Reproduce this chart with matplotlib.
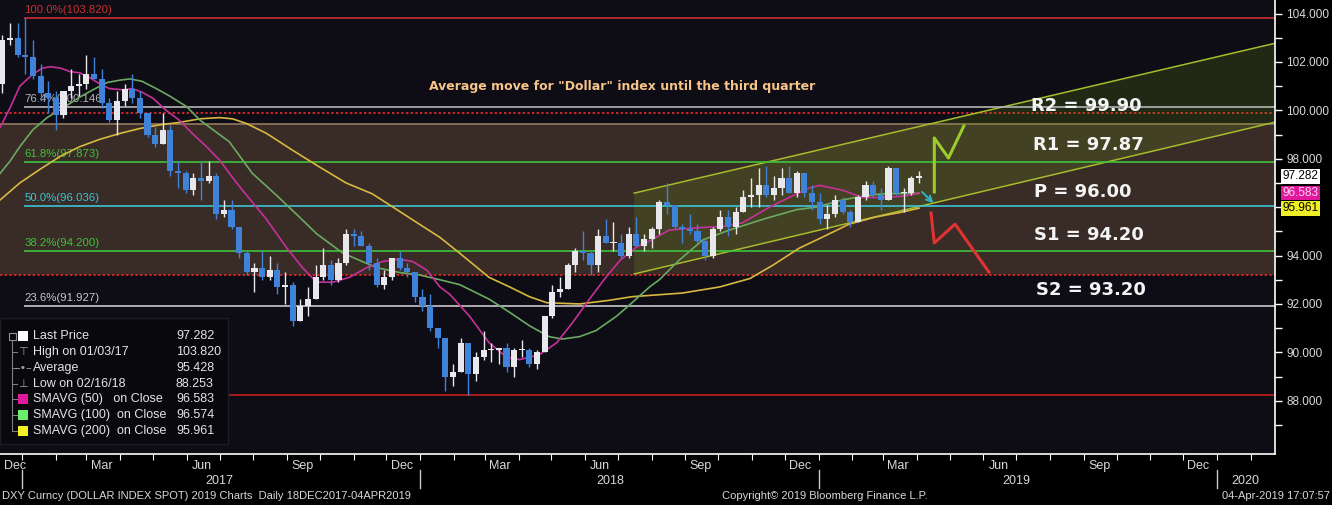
import matplotlib
matplotlib.use("Agg")
import matplotlib.pyplot as plt
import matplotlib.dates as mdates
import matplotlib.transforms as mtransforms
from matplotlib.patches import Rectangle, Polygon
from matplotlib.lines import Line2D
import pandas as pd

#### data
# weekly bars (week starting monday)
week_start = pd.date_range('2016-12-12', '2019-04-01', freq='W-MON')
first_open = 101.1
highs = [103.1, 103.6, 103.6,
         103.82, 102.9, 101.9, 101.2, 100.8, 100.8, 101.7, 101.5, 102.3, 102.2, 101.7, 100.5, 100.8,
         101.1, 101.5, 100.8, 99.9, 99.3, 99.9, 99.4, 97.9, 97.5, 97.4, 97.9, 97.9, 97.4,
         96.3, 96.3, 95.2, 94.2, 93.7, 94.2, 94.0, 93.7, 93.3, 92.9, 92.2, 92.7, 93.6,
         94.3, 93.8, 93.9, 95.1, 95.1, 95.0, 94.5, 93.9, 93.4, 93.9, 94.2, 93.7, 93.3,
         92.6, 92.4, 91.0, 90.6, 89.5, 90.6, 90.4, 90.0, 90.9, 90.4, 90.2, 90.4, 90.2,
         90.5, 90.2, 90.1, 91.5, 92.8, 93.1, 93.7, 94.3, 95.0, 94.2, 95.1, 95.5, 95.4,
         94.9, 95.2, 95.6, 94.9, 95.2, 96.3, 96.98, 96.1, 95.3, 95.7, 95.3, 94.7, 95.2,
         95.9, 95.9, 96.0, 96.7, 97.2, 97.6, 97.7, 97.3, 97.6, 97.7, 97.5, 97.4, 96.9, 96.6,
         96.1, 96.5, 96.4, 95.9, 96.5, 97.1, 97.1, 96.8, 97.7, 97.6, 96.8, 97.3, 97.5]
lows = [100.7, 102.7, 102.2,
        101.5, 101.3, 100.4, 99.9, 99.2, 99.7, 100.5, 100.6, 100.9, 101.3, 100.1, 99.5, 99.0,
        100.2, 100.3, 99.7, 98.9, 98.5, 98.6, 97.3, 96.8, 96.6, 96.5, 96.3, 97.0, 95.5,
        95.6, 95.1, 93.9, 93.2, 92.5, 93.0, 93.0, 92.4, 92.0, 91.1, 91.3, 91.5, 92.2,
        93.0, 92.8, 92.9, 93.6, 94.4, 94.4, 93.4, 92.7, 92.6, 93.0, 93.4, 93.1, 92.1,
        91.7, 90.9, 90.2, 88.4, 88.6, 89.2, 88.25, 88.8, 89.7, 89.6, 89.5, 89.2, 89.0,
        89.8, 89.4, 89.3, 90.0, 91.4, 92.3, 92.6, 93.3, 93.8, 93.2, 93.3, 94.5, 94.2,
        93.9, 93.9, 94.4, 94.2, 94.3, 94.9, 95.7, 95.1, 94.5, 94.9, 94.5, 93.8, 93.9,
        95.0, 94.8, 94.9, 95.8, 96.0, 96.0, 96.4, 96.3, 96.5, 96.6, 96.4, 96.4, 95.9, 95.3,
        95.1, 95.6, 95.7, 95.2, 95.4, 96.3, 96.4, 95.9, 96.3, 96.5, 95.8, 96.5, 97.0]
closes = [102.9, 103.0, 102.3,
          102.2, 101.4, 100.7, 100.5, 99.8, 100.8, 101.0, 101.1, 101.5, 101.3, 100.3, 99.6, 100.4,
          100.9, 100.5, 99.9, 99.0, 98.6, 99.2, 97.5, 97.4, 96.7, 97.2, 97.1, 97.3, 95.7,
          95.9, 95.2, 94.1, 93.3, 93.5, 93.1, 93.4, 92.7, 92.8, 91.3, 91.9, 92.2, 93.1,
          93.6, 93.0, 93.7, 94.9, 94.8, 94.4, 93.7, 92.8, 93.1, 93.9, 93.5, 93.3, 92.3,
          91.9, 91.0, 90.6, 89.0, 89.2, 90.4, 89.1, 89.8, 90.1, 90.1, 90.2, 89.4, 90.1,
          90.1, 89.5, 90.0, 91.5, 92.5, 92.6, 93.6, 94.2, 94.1, 93.6, 94.8, 94.5, 94.5,
          94.0, 94.9, 94.4, 94.7, 95.1, 96.2, 96.1, 95.2, 95.1, 95.0, 94.6, 94.0, 95.1,
          95.6, 95.2, 95.8, 96.4, 96.5, 96.9, 96.5, 96.8, 97.2, 96.6, 97.4, 96.6, 96.2, 95.5,
          95.7, 96.3, 95.8, 95.4, 96.4, 96.9, 96.5, 96.3, 97.6, 96.6, 96.6, 97.2, 97.282]
opens = [first_open] + closes[:-1]

# moving averages
sma50_dates = ['2016-12-12', '2016-12-21', '2016-12-30', '2017-01-11', '2017-01-20', '2017-01-27',
               '2017-02-05', '2017-02-14', '2017-02-23', '2017-03-04', '2017-03-13', '2017-03-22',
               '2017-04-03', '2017-04-12', '2017-04-21', '2017-05-01', '2017-05-13', '2017-05-25',
               '2017-06-06', '2017-06-19', '2017-07-01', '2017-07-10', '2017-07-22', '2017-08-13',
               '2017-08-31', '2017-09-15', '2017-09-28', '2017-10-13', '2017-10-28', '2017-11-13',
               '2017-11-27', '2017-12-13', '2017-12-25', '2018-01-07', '2018-01-19', '2018-01-28',
               '2018-02-06', '2018-02-15', '2018-03-05', '2018-03-21', '2018-04-02', '2018-04-20',
               '2018-05-06', '2018-05-20', '2018-06-05', '2018-06-20', '2018-07-03', '2018-07-18',
               '2018-07-30', '2018-08-17', '2018-09-11', '2018-10-05', '2018-10-23', '2018-11-17',
               '2018-12-05', '2018-12-24', '2019-01-02', '2019-01-23', '2019-02-10', '2019-02-28',
               '2019-03-19', '2019-04-03']
sma50_vals = [99.3, 100.1, 101.0, 101.5, 101.75, 101.8, 101.75, 101.6, 101.55, 101.35, 101.1, 100.9,
              100.85, 100.9, 100.75, 100.5, 100.0, 99.6, 99.05, 98.5, 97.95, 97.4, 96.7, 95.5,
              94.35, 93.5, 92.9, 92.9, 93.1, 93.5, 93.75, 93.85, 93.75, 93.4, 92.7, 92.4,
              91.95, 91.5, 90.4, 89.8, 89.7, 89.9, 90.4, 91.2, 92.2, 93.1, 93.8, 94.35,
              94.6, 95.05, 95.15, 95.2, 95.35, 96.0, 96.4, 96.8, 96.9, 96.7, 96.4, 96.4,
              96.45, 96.58]

sma100_dates = ['2016-12-12', '2016-12-21', '2016-12-30', '2017-01-11', '2017-01-24', '2017-02-02',
                '2017-02-11', '2017-02-23', '2017-03-07', '2017-03-20', '2017-04-01', '2017-04-10',
                '2017-04-21', '2017-05-04', '2017-05-16', '2017-06-01', '2017-06-13', '2017-06-25',
                '2017-07-10', '2017-07-31', '2017-08-22', '2017-09-12', '2017-09-28', '2017-10-22',
                '2017-11-22', '2017-12-13', '2017-12-31', '2018-01-19', '2018-02-06', '2018-02-15',
                '2018-03-05', '2018-03-24', '2018-04-11', '2018-04-29', '2018-05-11', '2018-05-27',
                '2018-06-11', '2018-06-30', '2018-07-14', '2018-07-30', '2018-08-08', '2018-08-26',
                '2018-09-17', '2018-10-11', '2018-11-11', '2018-12-12', '2018-12-30', '2019-01-23',
                '2019-02-10', '2019-02-28', '2019-04-03']
sma100_vals = [97.4, 97.9, 98.5, 99.2, 99.7, 99.95, 100.2, 100.55, 100.85, 101.15,
               101.25, 101.3, 101.2, 100.9, 100.6, 100.15, 99.6, 99.2, 98.7, 97.4,
               96.5, 95.6, 94.9, 94.1, 93.5, 93.3, 93.2, 93.0, 92.8, 92.6,
               92.2, 91.65, 91.1, 90.65, 90.55, 90.65, 90.9, 91.5, 92.05, 92.7,
               93.0, 93.8, 94.65, 95.05, 95.5, 95.9, 96.0, 96.3, 96.45, 96.55, 96.57]

sma200_dates = ['2016-12-12', '2016-12-30', '2017-01-17', '2017-02-05', '2017-02-23', '2017-03-13',
                '2017-04-01', '2017-04-19', '2017-05-07', '2017-05-25', '2017-06-13', '2017-07-01',
                '2017-07-13', '2017-07-26', '2017-08-13', '2017-09-06', '2017-10-01', '2017-10-25',
                '2017-11-18', '2017-12-07', '2017-12-31', '2018-01-19', '2018-02-06', '2018-03-05',
                '2018-03-24', '2018-04-11', '2018-04-27', '2018-05-27', '2018-06-23', '2018-07-14',
                '2018-08-29', '2018-10-02', '2018-10-30', '2018-11-20', '2018-12-14', '2019-01-04',
                '2019-01-29', '2019-02-23', '2019-03-19', '2019-04-03']
sma200_vals = [96.3, 97.0, 97.55, 98.1, 98.5, 98.8, 99.05, 99.25, 99.4, 99.5,
               99.65, 99.7, 99.65, 99.45, 99.05, 98.35, 97.65, 97.0, 96.55, 96.0,
               95.3, 94.75, 94.1, 93.1, 92.7, 92.3, 92.05, 92.0, 92.15, 92.3,
               92.45, 92.7, 93.05, 93.6, 94.3, 94.75, 95.3, 95.6, 95.8, 95.96]

# fibonacci retracement levels
fib_names = ['100.0%', '76.4%', '61.8%', '50.0%', '38.2%', '23.6%']
fib_levels = [103.820, 100.146, 97.873, 96.036, 94.200, 91.927]
fib_colors = ['#c83030', '#b4b4b4', '#3cc43c', '#3cc4d4', '#3cc43c', '#c8c8c8']
fib_start = '2017-01-03'
low_level = 88.253

# pivot levels
pivot_names = ['R2', 'R1', 'P', 'S1', 'S2']
pivot_levels = [99.90, 97.87, 96.00, 94.20, 93.20]
band_top = 99.45

# trend channel
chan_dates = ['2018-07-16', '2020-02-23']
chan_upper = [96.58, 102.77]
chan_lower = [93.24, 99.51]

# scenario paths
up_dates = ['2019-04-17', '2019-04-17', '2019-04-30', '2019-05-14']
up_vals = [96.63, 98.86, 98.03, 99.35]
dn_dates = ['2019-04-14', '2019-04-17', '2019-05-06', '2019-06-06']
dn_vals = [95.76, 94.52, 95.30, 93.32]
arrow_dates = ['2019-04-04', '2019-04-18']
arrow_vals = [96.71, 96.09]

# legend
leg_labels = ['Last Price', 'High on 01/03/17', 'Average', 'Low on 02/16/18',
              'SMAVG (50)   on Close', 'SMAVG (100)  on Close', 'SMAVG (200)  on Close']
leg_values = ['97.282', '103.820', '95.428', '88.253', '96.583', '96.574', '95.961']

tag_values = [97.282, 96.583, 95.961]


#### plot
W, H = 1332, 505
ff = ['Liberation Sans', 'DejaVu Sans']
fig = plt.figure(figsize=(W / 100, H / 100), dpi=100, facecolor='black')
ax = fig.add_axes([0, 1 - 454 / H, 1275 / W, 454 / H])
ax.set_facecolor('#0e0d15')

def px(x, y):
    return x / W, 1 - y / H

xmin, xmax = pd.Timestamp('2016-12-11 20:00'), pd.Timestamp('2020-02-23 05:00')
ax.set_xlim(xmin, xmax)
ax.set_ylim(85.8, 104.56)

# brown zone between pivot band
ax.axhspan(pivot_levels[4], band_top, color='#392b26', zorder=0, lw=0)
ax.axhline(band_top, color='#8c7258', lw=1.3, zorder=1)
for lvl in [pivot_levels[0], pivot_levels[4]]:
    ax.axhline(lvl, color='#c8282a', lw=1.4, ls=(0, (1.2, 1.2)), zorder=1)

# trend channel
t0, t1 = pd.to_datetime(chan_dates)
poly = Polygon([(mdates.date2num(t0), chan_upper[0]), (mdates.date2num(t1), chan_upper[1]),
                (mdates.date2num(t1), chan_lower[1]), (mdates.date2num(t0), chan_lower[0])],
               closed=True, facecolor='#6e9a18', alpha=0.2, lw=0, zorder=1)
ax.add_patch(poly)
ax.plot([t0, t1], chan_upper, color='#a6bc2c', lw=1.1, zorder=2)
ax.plot([t0, t1], chan_lower, color='#a6bc2c', lw=1.1, zorder=2)

# fibonacci lines
fs = pd.Timestamp(fib_start)
for name, lvl, c in zip(fib_names, fib_levels, fib_colors):
    ax.hlines(lvl, fs, xmax, color=c, lw=1.2, zorder=2)
    ax.text(fs, lvl + 0.12, '%s(%.3f)' % (name, lvl), color=c, fontsize=8.2,
            family=ff, va='bottom', ha='left', zorder=3)
ax.hlines(low_level, fs, xmax, color='#b81c1c', lw=1.3, zorder=2)

# candles
ws = week_start + pd.Timedelta(days=2)
for d, o, h, l, c in zip(ws, opens, highs, lows, closes):
    col = '#e8e8ec' if c >= o else '#3f82d8'
    ax.vlines(d, l, h, color=col, lw=1.0, zorder=4)
    body = c - o if abs(c - o) > 0.04 else 0.04
    ax.bar(d, body, bottom=o, width=5.6, color=col, lw=0, zorder=4)

# moving averages
ax.plot(pd.to_datetime(sma200_dates), sma200_vals, color='#d8b840', lw=1.2, zorder=3)
ax.plot(pd.to_datetime(sma100_dates), sma100_vals, color='#6aaa62', lw=1.2, zorder=3)
ax.plot(pd.to_datetime(sma50_dates), sma50_vals, color='#c8309a', lw=1.2, zorder=3)

# scenario paths
ax.plot(pd.to_datetime(up_dates), up_vals, color='#9ccc2c', lw=2.2, zorder=5)
ax.plot(pd.to_datetime(dn_dates), dn_vals, color='#e03434', lw=2.2, zorder=5)
ad = pd.to_datetime(arrow_dates)
ax.annotate('', xy=(ad[1], arrow_vals[1]), xytext=(ad[0], arrow_vals[0]),
            arrowprops=dict(arrowstyle='->', color='#30b4c8', lw=1.4), zorder=5)

# texts
fig.text(*px(622, 87), 'Average move for "Dollar" index until the third quarter',
         color='#f6c488', fontsize=9, fontweight='bold', ha='center', va='center', zorder=6)
pivot_y = [106, 145, 192, 235, 290]
pivot_x = [1031, 1033, 1034, 1034, 1036]
for name, lvl, xx, yy in zip(pivot_names, pivot_levels, pivot_x, pivot_y):
    fig.text(*px(xx, yy), '%s = %.2f' % (name, lvl), color='#f4f4f4', fontsize=13,
             fontweight='bold', ha='left', va='center')

# axes formatting
for s in ['top', 'left']:
    ax.spines[s].set_visible(False)
for s in ['bottom', 'right']:
    ax.spines[s].set_color('white')
    ax.spines[s].set_linewidth(1.2)

ax.yaxis.tick_right()
ytick_vals = list(range(88, 105, 2))
ax.set_yticks(ytick_vals)
# the 96 label sits under the price tags, as in the terminal view
ax.set_yticklabels(['' if v == 96 else '%.3f' % v for v in ytick_vals])
ax.set_yticks(range(87, 104, 2), minor=True)
ax.tick_params(axis='y', which='both', colors='white', labelcolor='#d8d8d8', direction='out',
               length=5, width=1, labelsize=8.5, pad=3)
for lab in ax.get_yticklabels():
    lab.set_family(ff)

ax.xaxis.set_major_locator(mdates.MonthLocator())
ax.tick_params(axis='x', which='both', colors='white', direction='out', length=4,
               labelbottom=False)

trans = mtransforms.blended_transform_factory(ax.transData, ax.transAxes)
month_lbl = {12: 'Dec', 3: 'Mar', 6: 'Jun', 9: 'Sep'}
for m in pd.date_range('2016-12-01', '2019-12-01', freq='MS'):
    if m.month not in month_lbl:
        continue
    if m < xmin:
        ax.text(0.003, -0.026, month_lbl[m.month], transform=ax.transAxes, color='#d8d8d8',
                fontsize=9, ha='left', va='center', family=ff)
    else:
        ax.text(m + pd.Timedelta(days=14), -0.026, month_lbl[m.month], transform=trans,
                color='#d8d8d8', fontsize=9, ha='center', va='center', family=ff)
year_lbl_dates = ['2017-07-01', '2018-06-24', '2019-07-01', '2020-01-27']
for yl, d in zip(['2017', '2018', '2019', '2020'], year_lbl_dates):
    ax.text(pd.Timestamp(d), -0.06, yl, transform=trans, color='#d8d8d8', fontsize=9,
            ha='center', va='center', family=ff)
for yr in ['2017-01-01', '2018-01-01', '2019-01-01', '2020-01-01']:
    ax.plot([pd.Timestamp(yr)] * 2, [-0.036, -0.075], transform=trans, color='#c8c8c8',
            lw=1, clip_on=False)

# right-hand price tags
tag_style = [('white', 'black'), ('#e0189c', '#ffd6f2'), ('#f0ee24', 'black')]
ytrans = mtransforms.blended_transform_factory(ax.transAxes, ax.transData)
for v, (fc, tc) in zip(tag_values, tag_style):
    ax.text(1.006, v, '%.3f' % v, transform=ytrans, color=tc, fontsize=8.5,
            family=ff, va='center', ha='left', zorder=10,
            clip_on=False, bbox=dict(boxstyle='square,pad=0.12', fc=fc, ec='none'))

# legend box
fig.patches.append(Rectangle(px(0, 444), 228 / W, 126 / H, transform=fig.transFigure,
                             facecolor='#09090d', edgecolor='#1c1c22', lw=1, zorder=5))
row_y = [336, 352, 368, 384, 399, 415, 431]
fig.add_artist(Line2D([12 / W, 12 / W], [px(0, 340)[1], px(0, 431)[1]], color='#808080',
                      lw=0.8, zorder=6))
for yy in row_y[1:]:
    fig.add_artist(Line2D([12 / W, 17 / W], [px(0, yy)[1]] * 2, color='#808080', lw=0.8, zorder=6))
fig.patches.append(Rectangle(px(9, 340), 7 / W, 7 / H, transform=fig.transFigure,
                             facecolor='#09090d', edgecolor='#909090', lw=0.8, zorder=7))
sq_colors = ['white', None, None, None, '#e0189c', '#6cf06c', '#f0ee24']
sym = [None, '⊤', '–•–', '⊥', None, None, None]
for yy, c, s in zip(row_y, sq_colors, sym):
    if c:
        fig.patches.append(Rectangle(px(18, yy + 5), 10 / W, 10 / H, transform=fig.transFigure,
                                     facecolor=c, edgecolor='none', zorder=7))
    else:
        fig.text(*px(23, yy), s, color='#a0a0a0', fontsize=8, ha='center', va='center', zorder=8)
for lab, val, yy in zip(leg_labels, leg_values, row_y):
    fig.text(*px(33, yy), lab, color='#e4e4e4', fontsize=9, va='center', ha='left',
             family=ff, zorder=8)
    fig.text(*px(176, yy), val, color='#e4e4e4', fontsize=9, va='center', ha='left',
             family=ff, zorder=8)

# footer
fig.text(*px(2, 496), 'DXY Curncy (DOLLAR INDEX SPOT) 2019 Charts  Daily 18DEC2017-04APR2019',
         color='#d8d8d8', fontsize=8, va='center', ha='left', family=ff)
fig.text(*px(825, 496), 'Copyright\u00a9 2019 Bloomberg Finance L.P.', color='#d8d8d8',
         fontsize=8, va='center', ha='center', family=ff)
fig.text(*px(1330, 496), '04-Apr-2019 17:07:57', color='#d8d8d8', fontsize=8,
         va='center', ha='right', family=ff)

fig.savefig('out.png', dpi=100, facecolor='black')
